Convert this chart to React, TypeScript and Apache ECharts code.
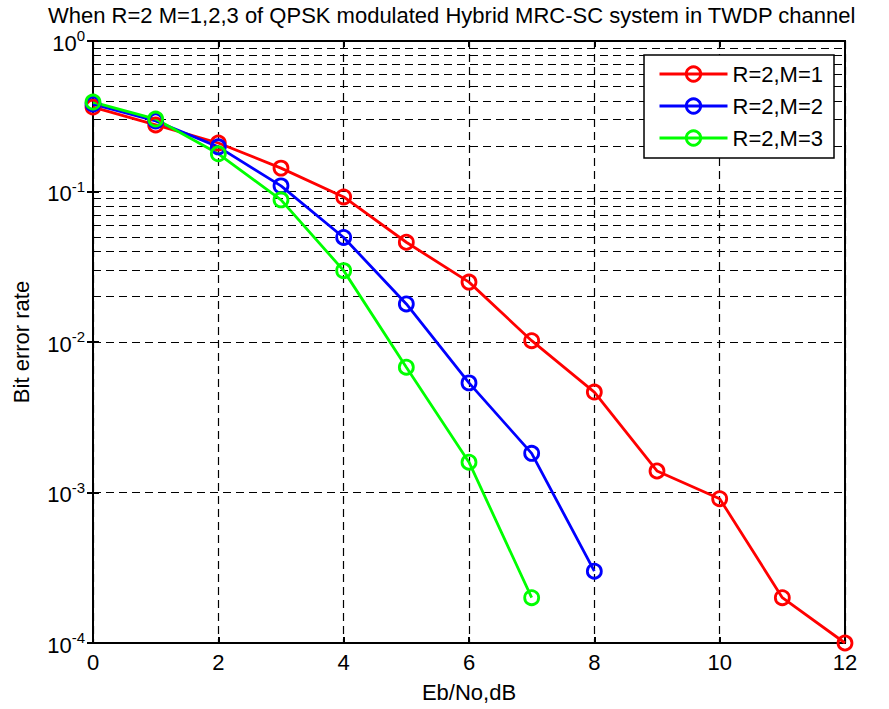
import React, { useEffect, useRef } from "react";
import * as echarts from "echarts";

const snr = [0, 1, 2, 3, 4, 5, 6, 7, 8, 9, 10, 11, 12];
const berM1 = [0.364, 0.277, 0.21, 0.143, 0.092, 0.046, 0.025, 0.0102, 0.00465, 0.00139, 0.00091, 0.0002, 0.0001];
const berM2 = [0.381, 0.294, 0.198, 0.109, 0.0495, 0.0179, 0.00535, 0.00182, 0.0003];
const berM3 = [0.393, 0.303, 0.178, 0.088, 0.0298, 0.0068, 0.00159, 0.0002];
const seriesNames = ["R=2,M=1", "R=2,M=2", "R=2,M=3"];
const seriesColors = ["#FF0000", "#0000FF", "#00FF00"];
const minorGridValues: number[] = [];
for (const d of [1e-4, 1e-3, 1e-2, 1e-1]) {
  for (const m of [2, 3, 4, 5, 6, 7, 8, 9]) minorGridValues.push(+(m * d).toPrecision(3));
}

const FONT = "'Liberation Sans', Arial, Helvetica, sans-serif";

export default function App() {
  const ref = useRef<HTMLDivElement>(null);
  useEffect(() => {
    if (!ref.current) return;
    const chart = echarts.init(ref.current, null, { renderer: "svg" });
    const allData = [berM1, berM2, berM3];
    const dash = [8, 5];
    const lineSeries = allData.map((vals, i) => ({
      name: seriesNames[i],
      type: "line",
      z: 10,
      data: vals.map((v, k) => [snr[k], v]),
      symbol: "circle",
      symbolSize: 14,
      lineStyle: { color: seriesColors[i], width: 2.8 },
      itemStyle: { color: "rgba(255,255,255,0)", borderColor: seriesColors[i], borderWidth: 2.8 },
      emphasis: { disabled: true },
    }));
    chart.setOption({
      animation: false,
      textStyle: { fontFamily: FONT },
      title: {
        text: "When R=2 M=1,2,3 of QPSK modulated Hybrid MRC-SC system in TWDP channel",
        left: 48,
        top: 4,
        padding: 0,
        textStyle: { fontFamily: FONT, fontSize: 22, lineHeight: 22, fontWeight: "normal", color: "#000" },
      },
      legend: {
        orient: "vertical",
        right: 55,
        top: 55,
        padding: [8, 11, 9, 14],
        itemGap: 10,
        itemWidth: 68,
        itemHeight: 18,
        backgroundColor: "#fff",
        borderColor: "#000",
        borderWidth: 1.5,
        z: 20,
        lineStyle: { width: 3 },
        itemStyle: { borderWidth: 2.8 },
        textStyle: { fontFamily: FONT, fontSize: 22, color: "#000" },
        data: seriesNames,
      },
      grid: {
        left: 93,
        right: 44,
        top: 41,
        bottom: 66,
        show: true,
        borderColor: "#000",
        borderWidth: 2,
        backgroundColor: "#fff",
      },
      xAxis: [
        {
          type: "value",
          min: 0,
          max: 12,
          interval: 2,
          name: "Eb/No,dB",
          nameLocation: "middle",
          nameGap: 38,
          nameTextStyle: { fontFamily: FONT, fontSize: 22, color: "#000" },
          axisLine: { lineStyle: { color: "#000", width: 2 } },
          axisTick: { inside: true, length: 6, lineStyle: { color: "#000", width: 2 } },
          axisLabel: { fontFamily: FONT, fontSize: 22, color: "#000", margin: 8 },
          splitLine: { show: true, lineStyle: { color: "#000", width: 1.2, type: dash } },
        },
        {
          type: "value",
          position: "top",
          min: 0,
          max: 12,
          interval: 2,
          axisLine: { lineStyle: { color: "#000", width: 2 } },
          axisTick: { inside: true, length: 6, lineStyle: { color: "#000", width: 2 } },
          axisLabel: { show: false },
          splitLine: { show: false },
        },
      ],
      yAxis: [
        {
          type: "log",
          logBase: 10,
          min: 0.0001,
          max: 1,
          name: "Bit error rate",
          nameLocation: "middle",
          nameGap: 61,
          nameTextStyle: { fontFamily: FONT, fontSize: 22, color: "#000" },
          axisLine: { lineStyle: { color: "#000", width: 2 } },
          axisTick: { inside: true, length: 6, lineStyle: { color: "#000", width: 2 } },
          axisLabel: {
            margin: 8,
            formatter: (v: number) => {
              const e = Math.round(Math.log10(v));
              return `{b|10}{s|${e}}`;
            },
            rich: {
              b: { fontFamily: FONT, fontSize: 22, color: "#000", verticalAlign: "bottom", lineHeight: 26 },
              s: { fontFamily: FONT, fontSize: 15, color: "#000", verticalAlign: "top", lineHeight: 15 },
            },
          },
          splitLine: { show: true, lineStyle: { color: "#000", width: 1.2, type: dash } },
        },
        {
          type: "log",
          logBase: 10,
          min: 0.0001,
          max: 1,
          position: "right",
          axisLine: { lineStyle: { color: "#000", width: 2 } },
          axisTick: { inside: true, length: 6, lineStyle: { color: "#000", width: 2 } },
          axisLabel: { show: false },
          splitLine: { show: false },
        },
      ],
      series: [
        {
          name: "minor-grid",
          type: "line",
          data: [],
          z: 1,
          silent: true,
          markLine: {
            silent: true,
            z: 1,
            symbol: ["none", "none"],
            label: { show: false },
            emphasis: { disabled: true },
            lineStyle: { color: "#000", width: 1.2, type: dash },
            data: minorGridValues.map((v) => ({ yAxis: v })),
          },
        },
        ...lineSeries,
      ],
    });
    return () => chart.dispose();
  }, []);
  return <div ref={ref} style={{ width: 889, height: 709, position: "absolute", left: 0, top: 0 }} />;
}
